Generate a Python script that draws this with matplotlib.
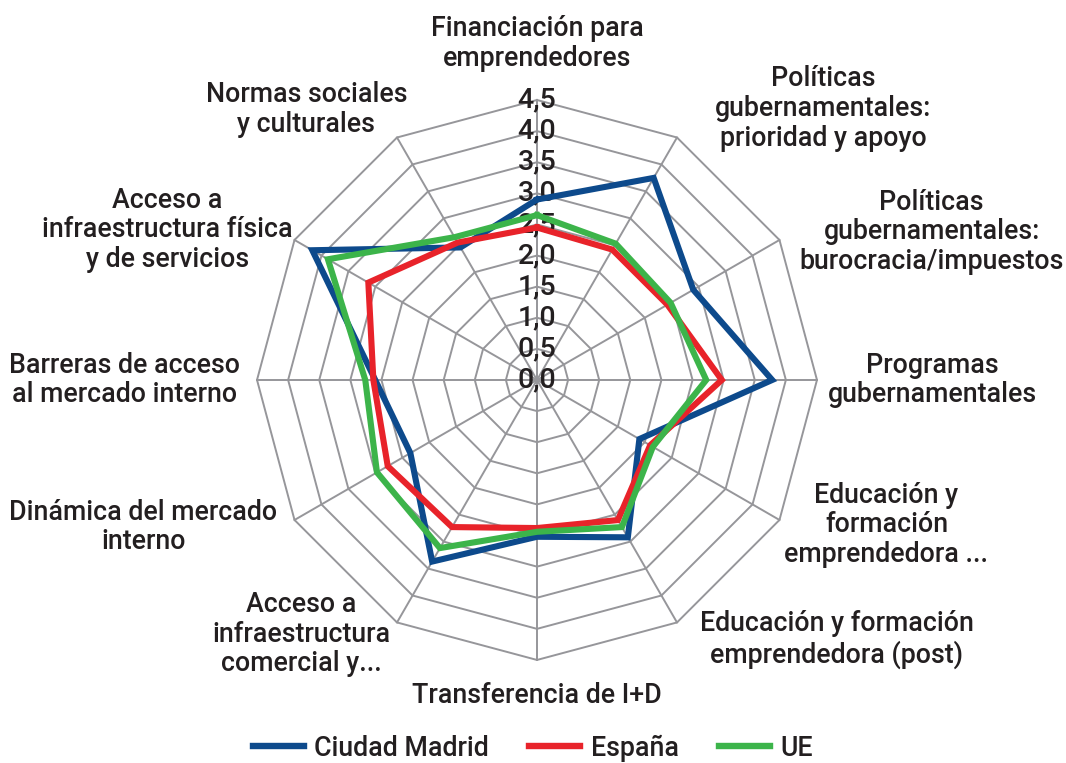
import matplotlib
matplotlib.use('Agg')
import matplotlib.pyplot as plt
import numpy as np

plt.rcParams['font.family'] = ['Roboto', 'DejaVu Sans']

categories = [
    'Financiación para\nemprendedores',
    'Políticas\ngubernamentales:\nprioridad y apoyo',
    'Políticas\ngubernamentales:\nburocracia/impuestos',
    'Programas\ngubernamentales',
    'Educación y\nformación\nemprendedora ...',
    'Educación y formación\nemprendedora (post)',
    'Transferencia de I+D',
    'Acceso a\ninfraestructura\ncomercial y...',
    'Dinámica del mercado\ninterno',
    'Barreras de acceso\nal mercado interno',
    'Acceso a\ninfraestructura física\ny de servicios',
    'Normas sociales\ny culturales',
]
madrid = [2.9, 3.75, 2.9, 3.78, 1.9, 2.92, 2.52, 3.37, 2.35, 2.6, 4.17, 2.46]
espana = [2.45, 2.42, 2.42, 2.97, 2.1, 2.6, 2.38, 2.73, 2.77, 2.63, 3.13, 2.55]
ue = [2.65, 2.53, 2.48, 2.72, 2.15, 2.73, 2.44, 3.12, 2.97, 2.76, 3.88, 2.65]
tick_values = [0.0, 0.5, 1.0, 1.5, 2.0, 2.5, 3.0, 3.5, 4.0, 4.5]
series_names = ['Ciudad Madrid', 'España', 'UE']

colors = ['#0d4a8c', '#e8232a', '#3cb44a']
grid_color = '#96969a'
text_color = '#231f20'

n = len(categories)
angles = np.linspace(0, 2 * np.pi, n, endpoint=False)
closed = np.append(angles, angles[0])

fig = plt.figure(figsize=(10.66, 7.63), dpi=100)
ax = fig.add_axes([0.2411, 0.135, 0.5253, 0.734], projection='polar')
ax.set_theta_zero_location('N')
ax.set_theta_direction(-1)
ax.set_ylim(0, 4.5)
ax.grid(False)
ax.spines['polar'].set_visible(False)
ax.set_xticks([])
ax.set_yticks([])
ax.patch.set_visible(False)

# spider web grid
for v in tick_values[1:]:
    ax.plot(closed, [v] * (n + 1), color=grid_color, lw=1.4, zorder=1, clip_on=False)
for a in angles:
    ax.plot([a, a], [0, 4.5], color=grid_color, lw=1.4, zorder=1, clip_on=False)

# radial tick labels
for v in tick_values:
    ax.text(0, v, f'{v:.1f}'.replace('.', ','), ha='center', va='center',
            fontsize=20.5, color=text_color, zorder=2, fontweight='medium')

# series
for vals, name, c in zip([madrid, espana, ue], series_names, colors):
    ax.plot(closed, vals + vals[:1], color=c, lw=4.4, label=name, zorder=3,
            solid_joinstyle='miter', clip_on=False)

# category labels: offset (pixels) from the outer vertex and anchor
label_layout = [
    ((0, 28), 'center', 'bottom'),
    ((38, 29), 'left', 'center'),
    ((20, 8), 'left', 'center'),
    ((11, 0), 'left', 'center'),
    ((5, -5), 'left', 'center'),
    ((23, -17), 'left', 'center'),
    ((0, -22), 'center', 'top'),
    ((-7, -12), 'right', 'center'),
    ((-17, -7), 'right', 'center'),
    ((-17, 0), 'right', 'center'),
    ((-2, 10), 'right', 'center'),
    ((10, 28), 'right', 'center'),
]
for a, lab, (off, ha, va) in zip(angles, categories, label_layout):
    ax.annotate(lab, xy=(a, 4.5), xytext=off, textcoords='offset pixels',
                ha=ha, va=va, multialignment='center', fontsize=19.3,
                fontweight='medium', color=text_color, linespacing=1.12,
                annotation_clip=False)

leg = fig.legend(loc='lower center', bbox_to_anchor=(0.5, -0.03), ncol=3,
                 frameon=False, handlelength=1.9, handletextpad=0.4,
                 columnspacing=1.5,
                 prop={'size': 19.3, 'weight': 'medium'})
for t in leg.get_texts():
    t.set_color(text_color)
for h in leg.get_lines():
    h.set_linewidth(4.6)

fig.savefig('out.png', dpi=100)
